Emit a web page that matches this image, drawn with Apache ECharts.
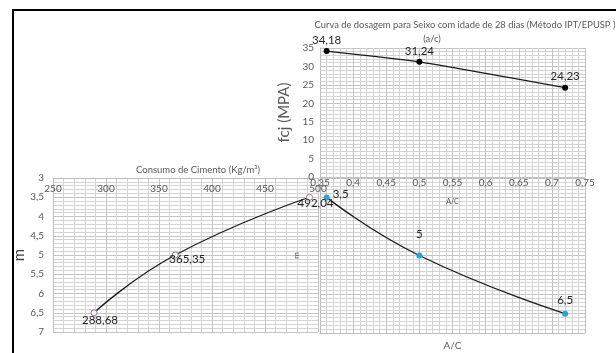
<!DOCTYPE html>
<html>
<head>
<meta charset="utf-8">
<script src="https://cdn.jsdelivr.net/npm/echarts@6/dist/echarts.min.js"></script>
<style>
  html, body { margin: 0; padding: 0; background: #fff; }
  #chart { width: 616px; height: 353px; }
</style>
</head>
<body>
<div id="chart"></div>
<script>
// Dosage diagram (IPT/EPUSP) – three linked quadrants
const acRatio = [0.36, 0.50, 0.72];          // water/cement ratio (a/c)
const fcj28 = [34.18, 31.24, 24.23];         // compressive strength at 28 days (MPa)
const traco = [3.5, 5, 6.5];                 // m (dry aggregate / cement)
const consumo = [492.04, 365.35, 288.68];    // cement consumption (kg/m³)
const traco2 = [3.5, 5, 6.5];                // m, same order as consumo

const titleText = 'Curva de dosagem para Seixo com idade de 28 dias (Método IPT/EPUSP )';
const titleSub = '(a/c)';
const consumoTitle = 'Consumo de Cimento (Kg/m³)';

const FONT = 'Lato, "Open Sans", sans-serif';
const GRAY = '#595959';
const GRID_MAJOR = '#c4c4c4';
const GRID_MINOR = '#d4d4d4';

const comma = v => String(Number(Number(v).toFixed(2))).replace('.', ',');

function valueAxis(extra) {
  return Object.assign({
    type: 'value',
    axisLine: { show: true, lineStyle: { color: '#bfbfbf', width: 1 } },
    axisTick: { show: false },
    splitLine: { show: true, lineStyle: { color: GRID_MAJOR, width: 1 } },
    minorTick: { show: false, splitNumber: 5 },
    minorSplitLine: { show: true, lineStyle: { color: GRID_MINOR, width: 1 } },
    axisLabel: { color: GRAY, fontFamily: FONT, fontSize: 10, formatter: comma },
    nameTextStyle: { color: GRAY, fontFamily: FONT }
  }, extra);
}

const chart = echarts.init(document.getElementById('chart'), null, { renderer: 'canvas' });

// label placement for each quadrant's points
const fcjPoints = acRatio.map((x, i) => [x, fcj28[i]]);
const mAcPoints = acRatio.map((x, i) => ({
  value: [x, traco[i]],
  label: [
    { position: 'right', distance: 3, offset: [0, -3] },
    { position: 'top', distance: 12 },
    { position: 'top', distance: 4 }
  ][i]
}));
const mConsPoints = consumo.map((x, i) => ({
  value: [x, traco2[i]],
  label: [
    { position: 'bottom', distance: 0, offset: [6, -3] },
    { position: 'bottom', distance: 0, offset: [12, -5] },
    { position: 'bottom', distance: 0, offset: [6, -2] }
  ][i]
}));

chart.setOption({
  animation: false,
  backgroundColor: '#ffffff',
  title: [
    {
      text: titleText,
      left: 460, top: 15, textAlign: 'center',
      textStyle: { color: GRAY, fontFamily: FONT, fontSize: 9.4, fontWeight: 'normal' }
    },
    {
      text: titleSub,
      left: 427, top: 29, textAlign: 'center',
      textStyle: { color: GRAY, fontFamily: FONT, fontSize: 9.4, fontWeight: 'normal' }
    },
    {
      text: consumoTitle,
      left: 193, top: 160, textAlign: 'center',
      textStyle: { color: GRAY, fontFamily: FONT, fontSize: 9.5, fontWeight: 'normal' }
    }
  ],
  grid: [
    { left: 320, top: 48, width: 265, height: 129 },   // fcj x a/c
    { left: 53, top: 178, width: 265, height: 154 },   // m x consumo
    { left: 320, top: 178, width: 265, height: 155 }   // m x a/c
  ],
  xAxis: [
    valueAxis({
      gridIndex: 0, min: 0.35, max: 0.75, interval: 0.05, position: 'bottom',
      axisLabel: { color: GRAY, fontFamily: FONT, fontSize: 10, margin: 1, formatter: comma },
      name: 'A/C', nameLocation: 'middle', nameGap: 21,
      nameTextStyle: { color: GRAY, fontFamily: FONT, fontSize: 7 }
    }),
    valueAxis({
      gridIndex: 1, min: 250, max: 500, interval: 50, position: 'top',
      axisLabel: { color: GRAY, fontFamily: FONT, fontSize: 10, inside: true, margin: 6 }
    }),
    valueAxis({
      gridIndex: 2, min: 0.35, max: 0.75, interval: 0.05, position: 'bottom',
      axisLabel: { show: false },
      name: 'A/C', nameLocation: 'middle', nameGap: 8,
      nameTextStyle: { color: GRAY, fontFamily: FONT, fontSize: 10 }
    })
  ],
  yAxis: [
    valueAxis({
      gridIndex: 0, min: 0, max: 35, interval: 5,
      axisLabel: { color: GRAY, fontFamily: FONT, fontSize: 10, margin: 6 },
      name: 'fcj (MPA)', nameLocation: 'middle', nameGap: 28, nameRotate: 90,
      nameTextStyle: { color: GRAY, fontFamily: FONT, fontSize: 15 }
    }),
    valueAxis({
      gridIndex: 1, min: 3, max: 7, interval: 0.5, inverse: true,
      axisLabel: { color: GRAY, fontFamily: FONT, fontSize: 10, margin: 9, formatter: comma },
      name: 'm', nameLocation: 'middle', nameGap: 23, nameRotate: 90,
      nameTextStyle: { color: '#404040', fontFamily: FONT, fontSize: 15 }
    }),
    valueAxis({
      gridIndex: 2, min: 3, max: 7, interval: 0.5, inverse: true,
      axisLabel: { show: false },
      name: 'm', nameLocation: 'middle', nameGap: 20, nameRotate: 90,
      nameTextStyle: { color: GRAY, fontFamily: FONT, fontSize: 8 }
    })
  ],
  series: [
    {
      type: 'line', xAxisIndex: 0, yAxisIndex: 0,
      data: fcjPoints,
      smooth: 0.2,
      symbol: 'circle', symbolSize: 6,
      itemStyle: { color: '#000000' },
      lineStyle: { color: '#1a1a1a', width: 1.3 },
      label: {
        show: true, position: 'top', distance: 2,
        color: '#262626', fontFamily: FONT, fontSize: 11.5,
        formatter: p => comma(p.value[1])
      },
      z: 5
    },
    {
      type: 'line', xAxisIndex: 1, yAxisIndex: 1,
      data: mConsPoints,
      smooth: 0.5,
      symbol: 'circle', symbolSize: 6,
      itemStyle: { color: '#ffffff', borderColor: '#9a6fc4', borderWidth: 1 },
      lineStyle: { color: '#1a1a1a', width: 1.3 },
      label: {
        show: true,
        color: '#262626', fontFamily: FONT, fontSize: 11.5,
        formatter: p => comma(p.value[0])
      },
      z: 5
    },
    {
      type: 'line', xAxisIndex: 2, yAxisIndex: 2,
      data: mAcPoints,
      smooth: 0.5,
      symbol: 'circle', symbolSize: 6,
      itemStyle: { color: '#2aa3d8' },
      lineStyle: { color: '#1a1a1a', width: 1.3 },
      label: {
        show: true,
        color: '#262626', fontFamily: FONT, fontSize: 11.5,
        formatter: p => comma(p.value[1])
      },
      z: 5
    }
  ],
  graphic: [
    {
      type: 'polyline',
      shape: { points: [[13, 353], [13, 10], [616, 10]] },
      style: { stroke: '#000000', lineWidth: 2, fill: null },
      silent: true
    }
  ]
});
</script>
</body>
</html>
